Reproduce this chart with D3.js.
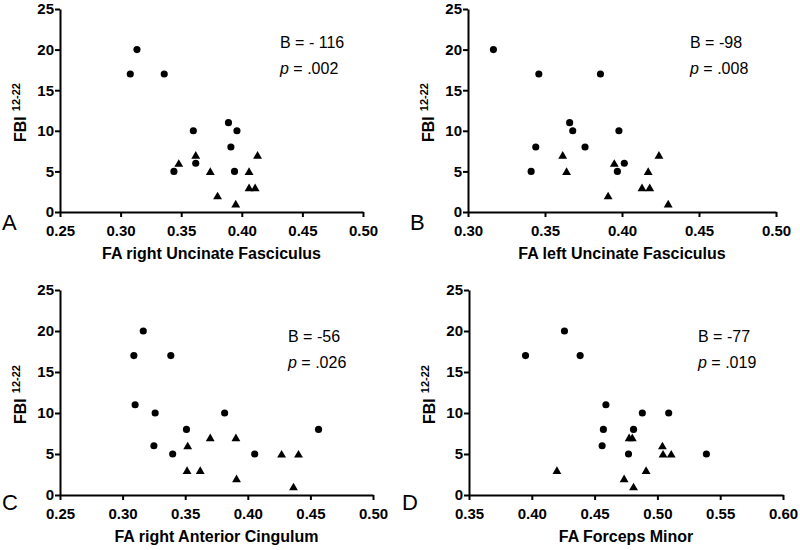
<!DOCTYPE html>
<html>
<head>
<meta charset="utf-8">
<script src="https://cdn.jsdelivr.net/npm/d3@7"></script>
<style>
  body { margin: 0; background: #fff; }
  svg { font-family: "Liberation Sans", Arial, sans-serif; }
  .axis path, .axis line { stroke: #000; stroke-width: 2px; }
  .axis text { font-size: 15px; font-weight: bold; fill: #000; }
  .axis-title { font-size: 16px; font-weight: bold; }
  .panel-letter { font-size: 22px; }
  .stat { font-size: 16px; }
</style>
</head>
<body>
<svg id="chart" width="800" height="550"></svg>
<script>
// Panel labels, axis titles and regression stats.
const panelLetters = ["A", "B", "C", "D"];
const xTitles = ["FA right Uncinate Fasciculus", "FA left Uncinate Fasciculus",
                 "FA right Anterior Cingulum", "FA Forceps Minor"];
const statB = ["- 116", "-98", "-56", "-77"];
const statP = [".002", ".008", ".026", ".019"];
const xDomains = [[0.25, 0.50], [0.30, 0.50], [0.25, 0.50], [0.35, 0.60]];
const yTicks = [0, 5, 10, 15, 20, 25];

// Panel A
const aCircleFA  = [0.308, 0.3135, 0.336, 0.344, 0.360, 0.362, 0.389, 0.391, 0.396, 0.394];
const aCircleFBI = [17, 20, 17, 5, 10, 6, 11, 8, 10, 5];
const aTriFA     = [0.348, 0.362, 0.374, 0.380, 0.395, 0.406, 0.406, 0.411, 0.413];
const aTriFBI    = [6, 7, 5, 2, 1, 5, 3, 3, 7];

// Panel B
const bCircleFA  = [0.3165, 0.346, 0.386, 0.366, 0.368, 0.344, 0.376, 0.341, 0.398, 0.4015, 0.397];
const bCircleFBI = [20, 17, 17, 11, 10, 8, 8, 5, 10, 6, 5];
const bTriFA     = [0.3615, 0.364, 0.391, 0.395, 0.413, 0.418, 0.417, 0.424, 0.430];
const bTriFBI    = [7, 5, 2, 6, 3, 3, 5, 7, 1];

// Panel C
const cCircleFA  = [0.309, 0.3165, 0.3385, 0.310, 0.326, 0.325, 0.351, 0.340, 0.3815, 0.4055, 0.4565];
const cCircleFBI = [17, 20, 17, 11, 10, 6, 8, 5, 10, 5, 8];
const cTriFA     = [0.352, 0.3515, 0.362, 0.370, 0.3905, 0.391, 0.427, 0.4405, 0.4365];
const cTriFBI    = [6, 3, 3, 7, 7, 2, 5, 5, 1];

// Panel D
const dCircleFA  = [0.395, 0.426, 0.4385, 0.459, 0.457, 0.456, 0.481, 0.477, 0.488, 0.509, 0.539];
const dCircleFBI = [17, 20, 17, 11, 8, 6, 8, 5, 10, 10, 5];
const dTriFA     = [0.420, 0.4735, 0.4775, 0.480, 0.481, 0.491, 0.504, 0.5045, 0.511];
const dTriFBI    = [3, 2, 7, 7, 1, 3, 6, 5, 5];

const circles = [[aCircleFA, aCircleFBI], [bCircleFA, bCircleFBI], [cCircleFA, cCircleFBI], [dCircleFA, dCircleFBI]];
const triangles = [[aTriFA, aTriFBI], [bTriFA, bTriFBI], [cTriFA, cTriFBI], [dTriFA, dTriFBI]];

// Page layout of each panel (pixel boxes of the plot areas).
const layout = [
  { left: 60,  right: 363, top: 9,   bottom: 212, letterX: 2,   letterY: 230, statX: 280, statY: 48 },
  { left: 468, right: 776, top: 9,   bottom: 212, letterX: 410, letterY: 230, statX: 690, statY: 48 },
  { left: 60,  right: 373, top: 290, bottom: 495, letterX: 2,   letterY: 510, statX: 288, statY: 342 },
  { left: 469, right: 783, top: 290, bottom: 495, letterX: 402, letterY: 510, statX: 698, statY: 342 }
];

const svg = d3.select("#chart");

layout.forEach((box, i) => {
  const x = d3.scaleLinear().domain(xDomains[i]).range([box.left, box.right]);
  const y = d3.scaleLinear().domain([0, 25]).range([box.bottom, box.top]);
  const g = svg.append("g");

  const xTickVals = d3.range(xDomains[i][0], xDomains[i][1] + 0.001, 0.05);
  g.append("g")
    .attr("class", "axis")
    .attr("transform", `translate(0,${box.bottom})`)
    .call(d3.axisBottom(x).tickValues(xTickVals).tickFormat(d3.format(".2f"))
      .tickSize(5).tickSizeOuter(0).tickPadding(8));

  g.append("g")
    .attr("class", "axis")
    .attr("transform", `translate(${box.left},0)`)
    .call(d3.axisLeft(y).tickValues(yTicks).tickSize(5).tickSizeOuter(0).tickPadding(1));

  // Points: circles for one group, triangles for the other.
  const circleSym = d3.symbol().type(d3.symbolCircle).size(40);
  const triSym = d3.symbol().type(d3.symbolTriangle).size(34);
  const [cfa, cfbi] = circles[i];
  g.selectAll(".dot")
    .data(cfa.map((v, k) => [v, cfbi[k]]))
    .join("path")
    .attr("d", circleSym)
    .attr("transform", d => `translate(${x(d[0])},${y(d[1])})`)
    .attr("fill", "#000");
  const [tfa, tfbi] = triangles[i];
  g.selectAll(".tri")
    .data(tfa.map((v, k) => [v, tfbi[k]]))
    .join("path")
    .attr("d", triSym)
    .attr("transform", d => `translate(${x(d[0])},${y(d[1]) + 1})`)
    .attr("fill", "#000");

  // Axis titles.
  g.append("text")
    .attr("class", "axis-title")
    .attr("x", (box.left + box.right) / 2)
    .attr("y", box.bottom + 47)
    .attr("text-anchor", "middle")
    .text(xTitles[i]);

  const yt = g.append("text")
    .attr("class", "axis-title")
    .attr("transform", `translate(${box.left - 34},${(box.top + box.bottom) / 2 + 2}) rotate(-90)`)
    .attr("text-anchor", "middle");
  yt.append("tspan").text("FBI");
  yt.append("tspan").attr("dx", 5).attr("dy", -6).style("font-size", "11px").text("12-22");

  // Panel letter.
  g.append("text")
    .attr("class", "panel-letter")
    .attr("x", box.letterX)
    .attr("y", box.letterY)
    .text(panelLetters[i]);

  // Regression stats.
  g.append("text")
    .attr("class", "stat")
    .attr("x", box.statX)
    .attr("y", box.statY)
    .text(`B = ${statB[i]}`);
  const pt = g.append("text")
    .attr("class", "stat")
    .attr("x", box.statX)
    .attr("y", box.statY + 26);
  pt.append("tspan").style("font-style", "italic").text("p");
  pt.append("tspan").text(` = ${statP[i]}`);
});
</script>
</body>
</html>
